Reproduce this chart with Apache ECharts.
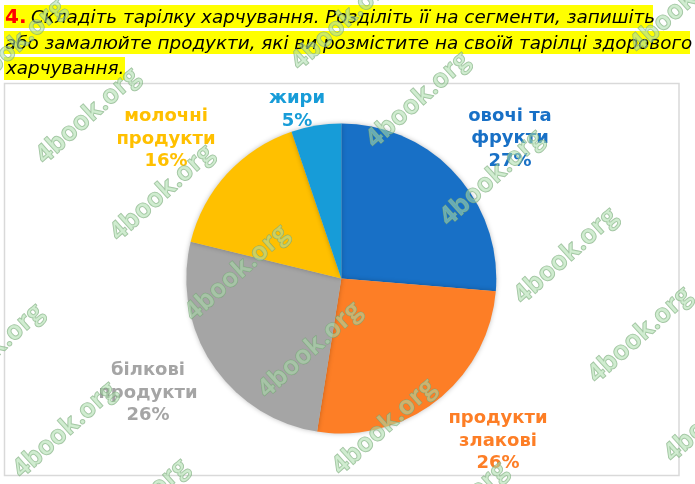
<!DOCTYPE html>
<html>
<head>
<meta charset="utf-8">
<style>
html,body{margin:0;padding:0;background:#fff;}
#main{width:695px;height:484px;}
</style>
<script src="https://cdn.jsdelivr.net/npm/echarts@6/dist/echarts.min.js"></script>
</head>
<body>
<div id="main"></div>
<script>
var categories = ['овочі та\nфрукти', 'продукти\nзлакові', 'білкові\nпродукти', 'молочні\nпродукти', 'жири'];
// slice sizes as drawn in the picture, printed percents as written on the labels
var sliceShares = [26.3, 26.2, 26.3, 16, 5.2];
var shownPercents = [27, 26, 26, 16, 5];
var colors = ['#1870c6', '#fd7e26', '#a5a5a5', '#ffc000', '#179cd8'];
var labelSpots = [[510, 138.5], [498, 441], [148, 393], [166, 139], [297, 110]];
var titleLines = ['Складіть тарілку харчування. Розділіть її на сегменти, запишіть', 'або замалюйте продукти, які ви розмістите на своїй тарілці здорового', 'харчування.'];
var stamps = [[14, 47], [88, 116], [162, 193], [237, 273], [310, 350], [384, 427], [343, 22], [418, 100], [492, 178], [566, 256], [640, 335], [65, 430], [-8, 352], [137, 507], [716, 414], [456, 510], [682, 5]];

var myChart = echarts.init(document.getElementById('main'));

var titleFont = 'italic 18.35px "DejaVu Sans"';
var graphics = [
    // 图框
    {type: 'rect', z: 1, shape: {x: 4.5, y: 83.5, width: 674.5, height: 392}, style: {fill: '#fff', stroke: '#d9d9d9', lineWidth: 1.5}},
    // 黄色底
    {type: 'rect', z: 2, shape: {x: 4, y: 5, width: 649, height: 23}, style: {fill: '#ffff00'}},
    {type: 'rect', z: 2, shape: {x: 4, y: 31, width: 686, height: 23}, style: {fill: '#ffff00'}},
    {type: 'rect', z: 2, shape: {x: 4, y: 57, width: 121, height: 23}, style: {fill: '#ffff00'}},
    {type: 'text', z: 3, x: 5, y: 18, style: {text: '4.', fill: '#ff0000', font: 'bold 20px "DejaVu Sans"', verticalAlign: 'middle'}},
    {type: 'text', z: 3, x: 31, y: 18, style: {text: titleLines[0], fill: '#000', font: titleFont, verticalAlign: 'middle'}},
    {type: 'text', z: 3, x: 5, y: 44, style: {text: titleLines[1], fill: '#000', font: titleFont, verticalAlign: 'middle'}},
    {type: 'text', z: 3, x: 6, y: 69, style: {text: titleLines[2], fill: '#000', font: titleFont, verticalAlign: 'middle'}}
];

// 水印
for (var i = 0; i < stamps.length; i++) {
    graphics.push({
        type: 'text', z: 100, x: stamps[i][0], y: stamps[i][1], rotation: 0.733,
        style: {
            text: '4book.org', font: 'bold 26px "Open Sans"', align: 'center', verticalAlign: 'middle',
            fill: 'rgba(170,220,170,0.55)', stroke: 'rgba(115,160,115,0.65)', lineWidth: 1
        }
    });
}

var pieData = [];
for (var j = 0; j < sliceShares.length; j++) {
    pieData.push({
        name: categories[j], value: sliceShares[j], shown: shownPercents[j],
        itemStyle: {color: colors[j]},
        label: {color: colors[j]}
    });
}

myChart.setOption({
    animation: false,
    backgroundColor: '#fff',
    graphic: {elements: graphics},
    series: [{
        type: 'pie', z: 10,
        center: [341.3, 278.5], radius: [0, 155],
        startAngle: 90, clockwise: true,
        data: pieData,
        itemStyle: {shadowBlur: 5, shadowColor: 'rgba(0,0,0,0.25)'},
        label: {
            show: true, position: 'outside', align: 'center',
            formatter: function (p) { return p.name + '\n' + p.data.shown + '%'; },
            fontFamily: 'DejaVu Sans', fontWeight: 'bold', fontSize: 18, lineHeight: 22.5
        },
        labelLine: {show: false},
        labelLayout: function (params) {
            return {x: labelSpots[params.dataIndex][0], y: labelSpots[params.dataIndex][1], align: 'center', verticalAlign: 'middle'};
        }
    }]
});
</script>
</body>
</html>
